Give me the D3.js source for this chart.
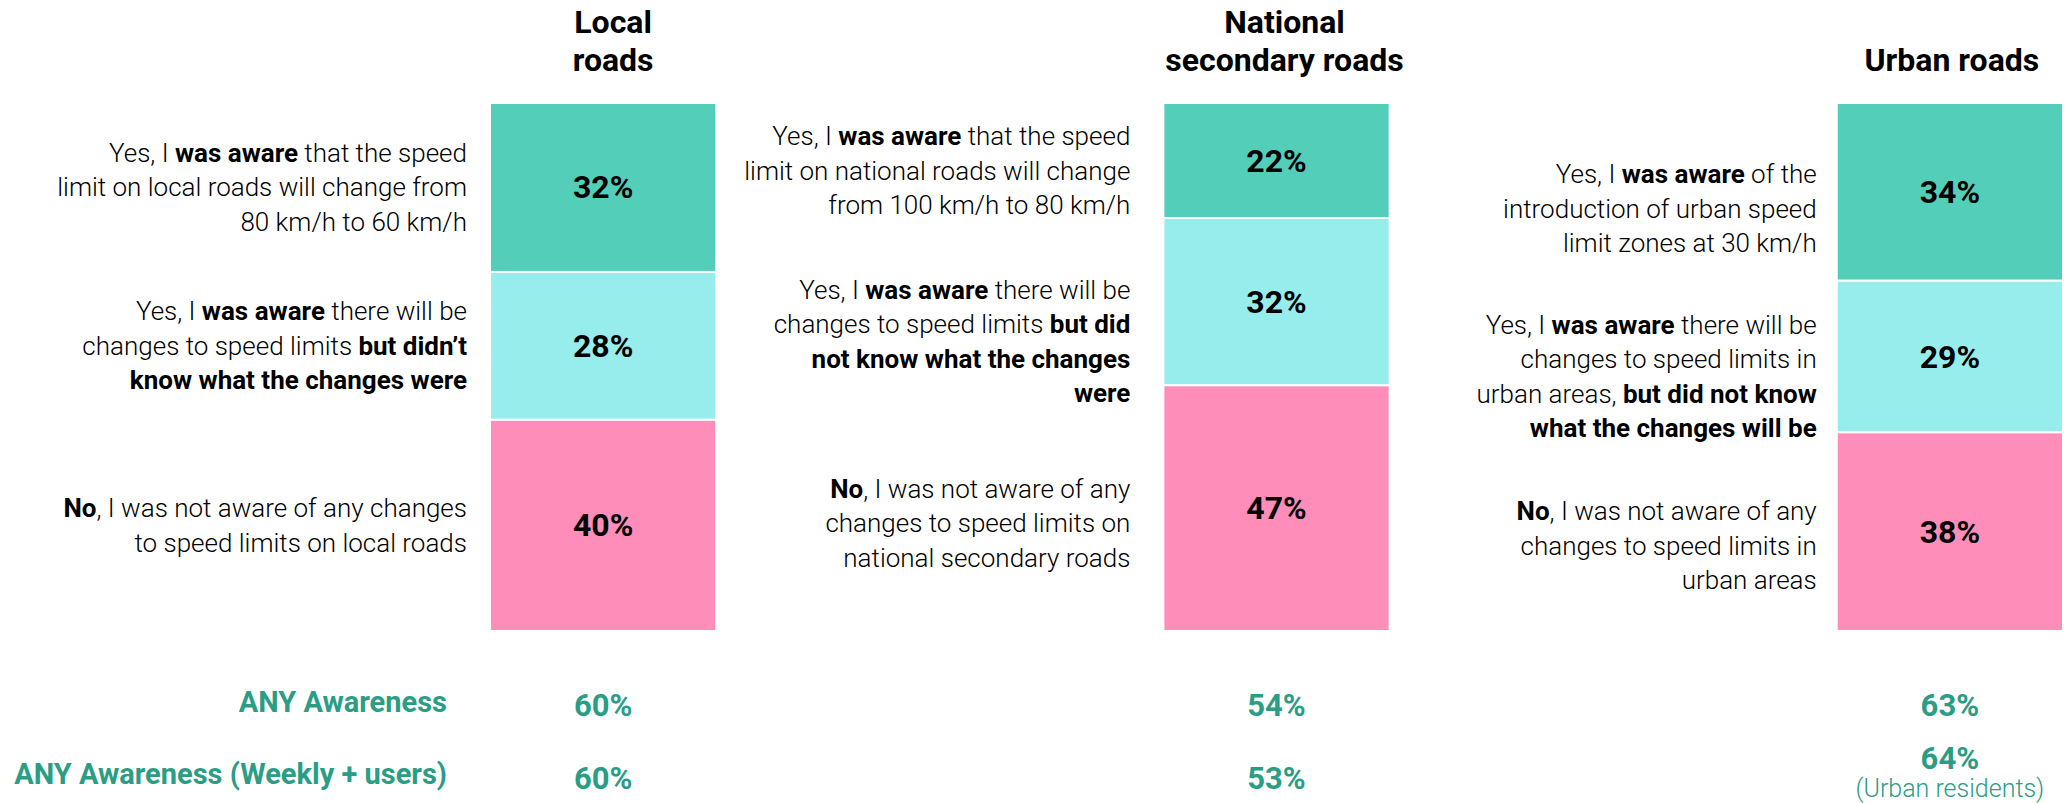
<!DOCTYPE html>
<html>
<head>
<meta charset="utf-8">
<script src="https://cdn.jsdelivr.net/npm/d3@7"></script>
<style>
  body { margin: 0; background: #fff; }
  svg { display: block; font-family: Roboto, "Liberation Sans", sans-serif; }
</style>
</head>
<body>
<div id="box"></div>
<script>
// data
var roads = ["Local roads", "National secondary roads", "Urban roads"];
var headerLines = [["Local", "roads"], ["National", "secondary roads"], ["Urban roads"]];
var answers = ["Aware of the change", "Aware, did not know what", "Not aware"];
var localValues = [32, 28, 40];
var nationalValues = [22, 32, 47];
var urbanValues = [34, 29, 38];
var anyAwareness = [60, 54, 63];
var anyAwarenessWeekly = [60, 53, 64];
var rowLabels = ["ANY Awareness", "ANY Awareness (Weekly + users)"];
var urbanNote = "(Urban residents)";

// answer texts, ** marks bold runs
var localLabels = [
    ["Yes, I **was aware** that the speed", "limit on local roads will change from", "80 km/h to 60 km/h"],
    ["Yes, I **was aware** there will be", "changes to speed limits **but didn\u2019t**", "**know what the changes were**"],
    ["**No**, I was not aware of any changes", "to speed limits on local roads"]
];
var nationalLabels = [
    ["Yes, I **was aware** that the speed", "limit on national roads will change", "from 100 km/h to 80 km/h"],
    ["Yes, I **was aware** there will be", "changes to speed limits **but did**", "**not know what the changes**", "**were**"],
    ["**No**, I was not aware of any", "changes to speed limits on", "national secondary roads"]
];
var urbanLabels = [
    ["Yes, I **was aware** of the", "introduction of urban speed", "limit zones at 30 km/h"],
    ["Yes, I **was aware** there will be", "changes to speed limits in", "urban areas, **but did not know**", "**what the changes will be**"],
    ["**No**, I was not aware of any", "changes to speed limits in", "urban areas"]
];

var seriesValues = [localValues, nationalValues, urbanValues];
var seriesLabels = [localLabels, nationalLabels, urbanLabels];

// look
var colors = ["#53cfb9", "#97edeb", "#ff8db9"];
var green = "#2a9d85";
var width = 2067, height = 803;
var barTop = 103, barBottom = 631;
var labelGap = [23, 33, 20];          // label right edge to bar
var labelShift = [[0, 0, 0], [10, 40, 15], [17, 20, 14]];
var headerShift = [10, 8, 2];
var lineH = 34.5;

var svg = d3.select("#box")
    .append("svg")
    .attr("width", width)
    .attr("height", height);

var x = d3.scaleBand()
    .domain(roads)
    .range([490, 2063])
    .paddingInner(0.664)
    .paddingOuter(0);

var color = d3.scaleOrdinal().domain(answers).range(colors);

function richText(sel, str) {
    var parts = str.split("**");
    parts.forEach(function(p, i) {
        if (p === "") return;
        sel.append("tspan")
            .attr("font-weight", i % 2 ? 700 : 300)
            .text(p);
    });
}

roads.forEach(function(road, r) {
    var values = seriesValues[r];
    var total = d3.sum(values);
    var y = d3.scaleLinear().domain([0, total]).range([barTop, barBottom]);
    var x0 = x(road), bw = x.bandwidth(), cx = x0 + bw / 2;

    var stacked = [];
    var acc = 0;
    values.forEach(function(v, i) {
        stacked.push({ answer: answers[i], value: v, y0: acc, y1: acc + v, lines: seriesLabels[r][i] });
        acc += v;
    });

    var g = svg.append("g").attr("class", "road");

    // header
    g.selectAll(".head")
        .data(headerLines[r])
        .enter()
        .append("text")
        .attr("class", "head")
        .attr("x", cx + headerShift[r])
        .attr("y", function(d, i) { return (headerLines[r].length === 1 ? 60 : 22 + i * 38); })
        .attr("text-anchor", "middle")
        .attr("dominant-baseline", "central")
        .attr("font-size", 32)
        .attr("font-weight", 700)
        .attr("fill", "#000")
        .text(function(d) { return d; });

    // segments
    g.selectAll(".seg")
        .data(stacked)
        .enter()
        .append("rect")
        .attr("class", "seg")
        .attr("x", x0)
        .attr("width", bw)
        .attr("y", function(d) { return y(d.y0); })
        .attr("height", function(d) { return y(d.y1) - y(d.y0); })
        .attr("fill", function(d) { return color(d.answer); })
        .attr("stroke", "#fff")
        .attr("stroke-width", 2);

    // values inside segments
    g.selectAll(".val")
        .data(stacked)
        .enter()
        .append("text")
        .attr("class", "val")
        .attr("x", cx)
        .attr("y", function(d) { return y((d.y0 + d.y1) / 2); })
        .attr("text-anchor", "middle")
        .attr("dominant-baseline", "central")
        .attr("font-size", 32)
        .attr("font-weight", 700)
        .attr("fill", "#000")
        .text(function(d) { return d.value + "%"; });

    // answer labels
    stacked.forEach(function(d, i) {
        var mid = y((d.y0 + d.y1) / 2) + labelShift[r][i];
        var n = d.lines.length;
        d.lines.forEach(function(line, k) {
            var t = g.append("text")
                .attr("x", x0 - labelGap[r])
                .attr("y", mid + (k - (n - 1) / 2) * lineH)
                .attr("text-anchor", "end")
                .attr("dominant-baseline", "central")
                .attr("font-size", 26)
                .attr("fill", "#000");
            richText(t, line);
        });
    });

    // awareness rows
    g.append("text")
        .attr("x", cx)
        .attr("y", 705)
        .attr("text-anchor", "middle")
        .attr("dominant-baseline", "central")
        .attr("font-size", 31)
        .attr("font-weight", 700)
        .attr("fill", green)
        .text(anyAwareness[r] + "%");

    g.append("text")
        .attr("x", cx)
        .attr("y", r === 2 ? 758 : 778)
        .attr("text-anchor", "middle")
        .attr("dominant-baseline", "central")
        .attr("font-size", 31)
        .attr("font-weight", 700)
        .attr("fill", green)
        .text(anyAwarenessWeekly[r] + "%");
});

// urban note
svg.append("text")
    .attr("x", x(roads[2]) + x.bandwidth() / 2)
    .attr("y", 788)
    .attr("text-anchor", "middle")
    .attr("dominant-baseline", "central")
    .attr("font-size", 25)
    .attr("font-weight", 300)
    .attr("fill", green)
    .text(urbanNote);

// row labels
svg.selectAll(".rowlab")
    .data(rowLabels)
    .enter()
    .append("text")
    .attr("class", "rowlab")
    .attr("x", 447)
    .attr("y", function(d, i) { return i ? 774 : 702; })
    .attr("text-anchor", "end")
    .attr("dominant-baseline", "central")
    .attr("font-size", 29)
    .attr("font-weight", 700)
    .attr("fill", green)
    .text(function(d) { return d; });
</script>
</body>
</html>
